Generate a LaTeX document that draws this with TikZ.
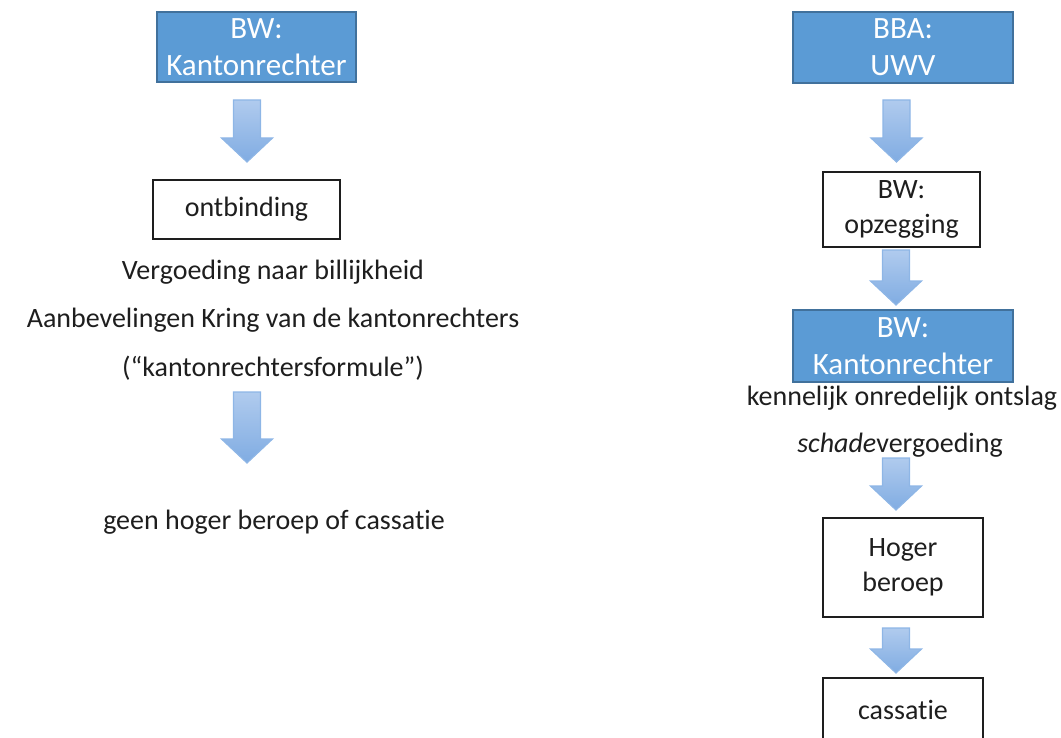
\documentclass[tikz,border=0pt]{standalone}
\usepackage{fontspec}
\setmainfont{Carlito}[Ligatures=NoCommon]
\usetikzlibrary{calc}

\definecolor{boxblue}{RGB}{91,155,213}
\definecolor{boxline}{RGB}{65,113,156}
\definecolor{arrowtop}{RGB}{176,203,238}
\definecolor{arrowbot}{RGB}{128,172,226}
\definecolor{arrowline}{RGB}{142,182,230}
\definecolor{textgray}{RGB}{30,30,30}

\begin{document}
\begin{tikzpicture}[x=0.5pt, y=-0.5pt,
  bluebox/.style={rectangle, draw=boxline, line width=0.6pt, fill=boxblue, text=white, align=center, inner sep=0pt,
    font=\fontsize{15.5}{18.5}\selectfont},
  whitebox/.style={rectangle, draw=textgray, line width=1pt, align=center, inner sep=0pt, text=textgray,
    font=\fontsize{14}{17.5}\selectfont},
  plaintext/.style={text=textgray, inner sep=0pt, font=\fontsize{14}{17.5}\selectfont},
  flowarrow/.style={top color=arrowtop, bottom color=arrowbot, draw=arrowline, line width=0.6pt,
    to path={let \p1=(\tikztostart), \p2=(\tikztotarget) in
      (\x1-6.75pt,\y1) -- (\x1+6.75pt,\y1) -- (\x1+6.75pt,\y2+12pt) -- (\x1+12.75pt,\y2+12pt)
      -- (\x2,\y2) -- (\x1-12.75pt,\y2+12pt) -- (\x1-6.75pt,\y2+12pt) -- cycle}}]

\clip (0,0) rectangle (1061,738);

% left column: ontbinding
\node[bluebox, minimum width=99.5pt, minimum height=35pt] (kr) at (256.5,47) {BW:\\Kantonrechter};
\node[whitebox, minimum width=93.5pt, minimum height=29.5pt] (ontb) at (246.5,209.5) {ontbinding};
\node[plaintext] (verg) at (273,272) {Vergoeding naar billijkheid};
\node[plaintext] (aanb) at (273,320) {Aanbevelingen Kring van de kantonrechters};
\node[plaintext] (form) at (273,368) {(“kantonrechtersformule”)};
\node[plaintext] (geen) at (274,522) {geen hoger beroep of cassatie};

% right column: opzegging
\node[bluebox, minimum width=110pt, minimum height=35.5pt] (uwv) at (903,47.5) {BBA:\\UWV};
\node[whitebox, minimum width=78.5pt, minimum height=37.5pt] (opz) at (901.5,209.5) {BW:\\opzegging};
\node[bluebox, minimum width=110pt, minimum height=36pt] (krb) at (903,346) {BW:\\Kantonrechter};
\node[plaintext] (kenn) at (902,398) {kennelijk onredelijk ontslag};
\node[plaintext] (schade) at (900,445) {\textit{schade}vergoeding};
\node[whitebox, minimum width=80pt, minimum height=49.5pt] (hb) at (903,567.5) {Hoger\\beroep};
\node[whitebox, minimum width=80pt, minimum height=32pt] (cas) at (903,710) {cassatie};

% block arrows between the steps
\foreach \x/\ya/\yb [count=\i] in {247/100/162, 247/392/463, 896.5/100/162, 896/250/305, 896/458/510, 896/628/673} {
  \coordinate (tail\i) at (\x,\ya);
  \coordinate (tip\i) at (\x,\yb);
  \draw[flowarrow] (tail\i) to (tip\i);
}
\end{tikzpicture}
\end{document}
